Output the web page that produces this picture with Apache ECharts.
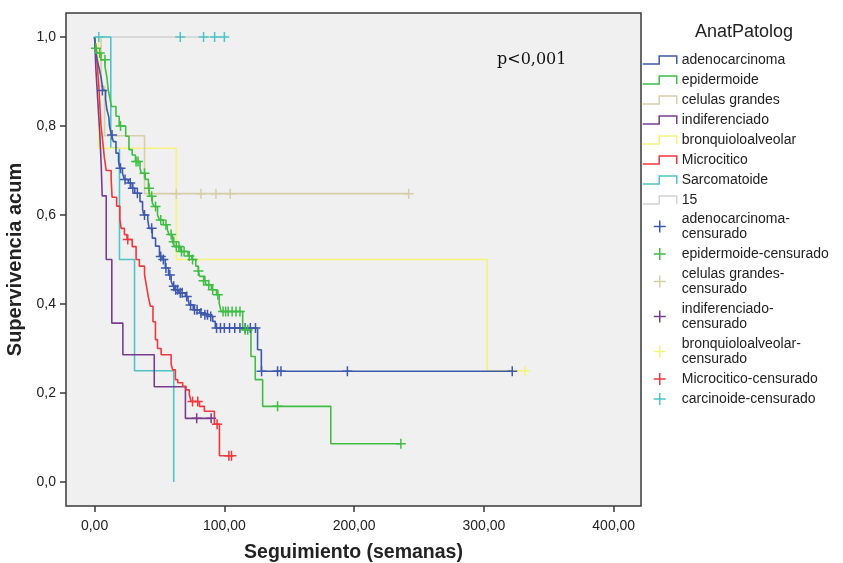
<!DOCTYPE html>
<html>
<head>
<meta charset="utf-8">
<script src="https://cdn.jsdelivr.net/npm/echarts@6/dist/echarts.min.js"></script>
<style>
  html, body { margin: 0; padding: 0; background: #fff; }
  #chart { width: 843px; height: 563px; }
</style>
</head>
<body>
<div id="chart"></div>
<script>
// Kaplan-Meier steps [weeks, cumulative survival] and censored marks per group
const adenoSteps = [[0,1],[0.5,0.985],[1,0.964],[2,0.949],[3.5,0.93],[5,0.91],[6.5,0.88],[8.5,0.86],[9.5,0.837],[11,0.82],[11.5,0.8],[13,0.78],[14.5,0.765],[16.5,0.739],[18.5,0.72],[19.5,0.705],[21.5,0.694],[23,0.68],[26,0.672],[29,0.66],[31,0.649],[35,0.63],[37,0.612],[38,0.6],[41,0.589],[42,0.57],[44.5,0.548],[47,0.53],[50,0.507],[52,0.5],[54.5,0.481],[57,0.465],[59,0.451],[60.5,0.44],[62,0.432],[65,0.425],[70,0.417],[72,0.41],[73,0.398],[76,0.387],[81,0.38],[84,0.376],[89,0.372],[91,0.361],[93,0.346],[125.6,0.297],[128.5,0.249],[321.8,0.249]];
const adenoCens = [[6,0.88],[13.5,0.78],[20,0.705],[23.5,0.68],[27.5,0.672],[29.5,0.66],[33,0.649],[38.5,0.6],[44,0.57],[51,0.507],[53,0.5],[55,0.481],[58,0.465],[61,0.44],[62.5,0.432],[64,0.432],[66,0.425],[67.5,0.425],[71,0.417],[74,0.398],[77,0.387],[79,0.387],[82,0.38],[85,0.376],[87,0.376],[89.5,0.372],[94,0.346],[97,0.346],[100,0.346],[104,0.346],[108,0.346],[112,0.346],[116,0.346],[120,0.346],[124,0.346],[128.7,0.249],[141,0.249],[143.6,0.249],[194.8,0.249],[321.8,0.249]];

const epiSteps = [[0,1],[0.5,0.985],[1,0.975],[2,0.964],[5,0.949],[8,0.934],[9.5,0.91],[10.5,0.882],[12,0.86],[13,0.844],[16.5,0.822],[19,0.8],[24,0.777],[26.5,0.747],[29,0.735],[31.5,0.72],[35,0.705],[36,0.694],[39,0.68],[41.5,0.66],[42.5,0.642],[44.5,0.627],[46,0.619],[48.5,0.6],[50,0.589],[53,0.578],[56,0.567],[57.5,0.556],[60,0.54],[61.5,0.529],[66,0.518],[72,0.508],[75,0.5],[78,0.485],[80,0.474],[81,0.462],[85,0.452],[86,0.443],[90,0.432],[94,0.421],[96,0.402],[97.5,0.383],[114.1,0.342],[120.5,0.282],[123.8,0.23],[129.5,0.17],[182,0.086],[236,0.086]];
const epiCens = [[1,0.975],[4,0.964],[8,0.949],[20,0.8],[32,0.72],[33.5,0.72],[38.5,0.694],[42,0.66],[44,0.642],[47,0.619],[51,0.589],[55,0.578],[59,0.556],[61,0.54],[63,0.529],[65,0.529],[67,0.518],[69,0.518],[73,0.508],[75.5,0.5],[80,0.474],[84,0.452],[88,0.443],[91,0.432],[95,0.421],[99,0.383],[101,0.383],[103,0.383],[106,0.383],[109,0.383],[112,0.383],[116,0.342],[118,0.342],[141,0.17],[236,0.086]];

const celSteps = [[0,1],[5,0.889],[7.7,0.778],[38.5,0.648],[242,0.648]];
const celCens = [[63,0.648],[82,0.648],[93.5,0.648],[104.5,0.648],[242,0.648]];

const indifSteps = [[0,1],[1,0.929],[2.5,0.857],[4,0.786],[5.1,0.714],[5.9,0.643],[9,0.5],[13.3,0.357],[21.8,0.286],[46,0.214],[70,0.143],[91,0.143]];
const indifCens = [[78.7,0.143],[89.8,0.143]];

const bronqSteps = [[0,1],[3,0.75],[63,0.5],[302.5,0.25],[331.5,0.25]];
const bronqCens = [[331.5,0.25]];

const microSteps = [[0,1],[1.5,0.96],[2.5,0.92],[3.5,0.88],[4.2,0.84],[5,0.8],[6.5,0.76],[7.5,0.73],[9,0.7],[12.8,0.68],[13.5,0.64],[17,0.62],[19.5,0.59],[20.5,0.57],[23,0.556],[25,0.545],[29,0.529],[32,0.5],[34.5,0.485],[38.5,0.466],[40,0.44],[41.5,0.415],[43,0.395],[45,0.36],[46.9,0.32],[48.5,0.3],[51.3,0.286],[59,0.264],[60.2,0.252],[62.3,0.23],[64.1,0.223],[67.9,0.215],[70.5,0.207],[73,0.196],[74.4,0.181],[80.8,0.17],[84.6,0.159],[92.3,0.13],[96.2,0.059],[106.4,0.059]];
const microCens = [[25.6,0.545],[75.5,0.181],[79.5,0.181],[94.4,0.13],[103.5,0.059],[105.5,0.059]];

const sarcSteps = [[0,1],[12.5,0.75],[19.2,0.5],[30.8,0.25],[61,0]];

const grp15Steps = [[0,1],[102,1]];
const carcCens = [[3.3,1],[66,1],[84,1],[92.5,1],[100,1]];

const xTicks = [0, 100, 200, 300, 400];
const yTicks = [0, 0.2, 0.4, 0.6, 0.8, 1.0];

const lineGroups = [
  { name: 'adenocarcinoma', color: '#3e58ac', data: adenoSteps },
  { name: 'epidermoide', color: '#3fbd45', data: epiSteps },
  { name: 'celulas grandes', color: '#d6cea6', data: celSteps },
  { name: 'indiferenciado', color: '#7a3c8e', data: indifSteps },
  { name: 'bronquioloalveolar', color: '#f7f27a', data: bronqSteps },
  { name: 'Microcitico', color: '#f0383c', data: microSteps },
  { name: 'Sarcomatoide', color: '#4ec4c8', data: sarcSteps },
  { name: '15', color: '#d2d2d2', data: grp15Steps }
];
const censGroups = [
  { name: 'adenocarcinoma-censurado', label: 'adenocarcinoma-\ncensurado', color: '#3e58ac', data: adenoCens },
  { name: 'epidermoide-censurado', label: 'epidermoide-censurado', color: '#3fbd45', data: epiCens },
  { name: 'celulas grandes-censurado', label: 'celulas grandes-\ncensurado', color: '#d6cea6', data: celCens },
  { name: 'indiferenciado-censurado', label: 'indiferenciado-\ncensurado', color: '#7a3c8e', data: indifCens },
  { name: 'bronquioloalveolar-censurado', label: 'bronquioloalveolar-\ncensurado', color: '#f7f27a', data: bronqCens },
  { name: 'Microcitico-censurado', label: 'Microcitico-censurado', color: '#f0383c', data: microCens },
  { name: 'carcinoide-censurado', label: 'carcinoide-censurado', color: '#4ec4c8', data: carcCens }
];

const stepIcon = 'path://M0,10L15,10L15,1L31,1L31,10';
const plusIcon = 'path://M0,6L12,6M6,0L6,12';
// same plus, padded sideways so it sits centred in a wide legend slot
const plusLegendIcon = 'path://M-11,6M0,6L12,6M6,0L6,12M23,6';
const font = 'Liberation Sans, Arial, sans-serif';

const drawOrder = ['15', 'Sarcomatoide', 'bronquioloalveolar', 'celulas grandes', 'indiferenciado', 'Microcitico', 'epidermoide', 'adenocarcinoma'];

const series = [];
drawOrder.forEach((n) => {
  const g = lineGroups.find((x) => x.name === n);
  series.push({
    name: g.name, type: 'line', step: 'end', data: g.data,
    showSymbol: false, symbol: 'none', silent: true,
    lineStyle: { color: g.color, width: 1.6 },
    itemStyle: { color: g.color }
  });
});
censGroups.forEach((g) => {
  series.push({
    name: g.name, type: 'scatter', data: g.data, silent: true,
    symbol: plusIcon, symbolSize: 10, z: 5,
    itemStyle: { color: 'transparent', borderColor: g.color, borderWidth: 1.5, opacity: 1 }
  });
});

const chart = echarts.init(document.getElementById('chart'), null, { renderer: 'canvas' });
chart.setOption({
  animation: false,
  backgroundColor: '#ffffff',
  textStyle: { fontFamily: font },
  title: {
    text: 'AnatPatolog', left: 695, top: 23, padding: 0,
    textStyle: { fontFamily: font, fontSize: 18, fontWeight: 'normal', color: '#222' }
  },
  grid: {
    left: 66, top: 13, width: 575, height: 493,
    outerBoundsMode: 'none', containLabel: false,
    show: true, backgroundColor: '#f0f0f0', borderColor: '#3a3a3a', borderWidth: 1.5
  },
  legend: [
    {
      orient: 'vertical', left: 642, top: 52, padding: 0,
      itemWidth: 34, itemHeight: 8, itemGap: 4, symbolKeepAspect: false,
      textStyle: { fontFamily: font, fontSize: 14, color: '#222', lineHeight: 16 },
      data: lineGroups.map((g) => ({
        name: g.name, icon: stepIcon,
        itemStyle: { color: 'transparent', borderColor: g.color, borderWidth: 1.5 }
      })),
      selectedMode: false
    },
    {
      orient: 'vertical', left: 642, top: 211.5, padding: 0,
      itemWidth: 34, itemHeight: 12, itemGap: 5, symbolKeepAspect: false,
      textStyle: { fontFamily: font, fontSize: 14, color: '#222', lineHeight: 15 },
      formatter: (name) => censGroups.find((g) => g.name === name).label,
      data: censGroups.map((g) => ({
        name: g.name, icon: plusLegendIcon,
        itemStyle: { color: 'transparent', borderColor: g.color, borderWidth: 1.5 }
      })),
      selectedMode: false
    }
  ],
  xAxis: {
    type: 'value', min: -22, max: 421,
    name: 'Seguimiento (semanas)', nameLocation: 'middle', nameGap: 37,
    nameTextStyle: { fontFamily: font, fontSize: 19.5, fontWeight: 'bold', color: '#222' },
    axisLine: { show: false, onZero: false },
    axisTick: { show: true, customValues: xTicks, length: 6, lineStyle: { color: '#3a3a3a', width: 1.5 } },
    axisLabel: {
      customValues: xTicks, margin: 13, fontSize: 14, color: '#222', fontFamily: font,
      formatter: (v) => v.toFixed(2).replace('.', ',')
    },
    splitLine: { show: false }
  },
  yAxis: {
    type: 'value', min: -0.054, max: 1.054,
    name: 'Supervivencia acum', nameLocation: 'middle', nameGap: 38,
    nameTextStyle: { fontFamily: font, fontSize: 20, fontWeight: 'bold', color: '#222' },
    axisLine: { show: false, onZero: false },
    axisTick: { show: true, customValues: yTicks, length: 6, lineStyle: { color: '#3a3a3a', width: 1.5 } },
    axisLabel: {
      customValues: yTicks, margin: 10, fontSize: 14, color: '#222', fontFamily: font,
      formatter: (v) => v.toFixed(1).replace('.', ',')
    },
    splitLine: { show: false }
  },
  graphic: [{
    type: 'text', left: 497, top: 52,
    style: { text: 'p<0,001', font: '16px "DejaVu Serif", serif', fill: '#111' }
  }],
  series: series
});
</script>
</body>
</html>
